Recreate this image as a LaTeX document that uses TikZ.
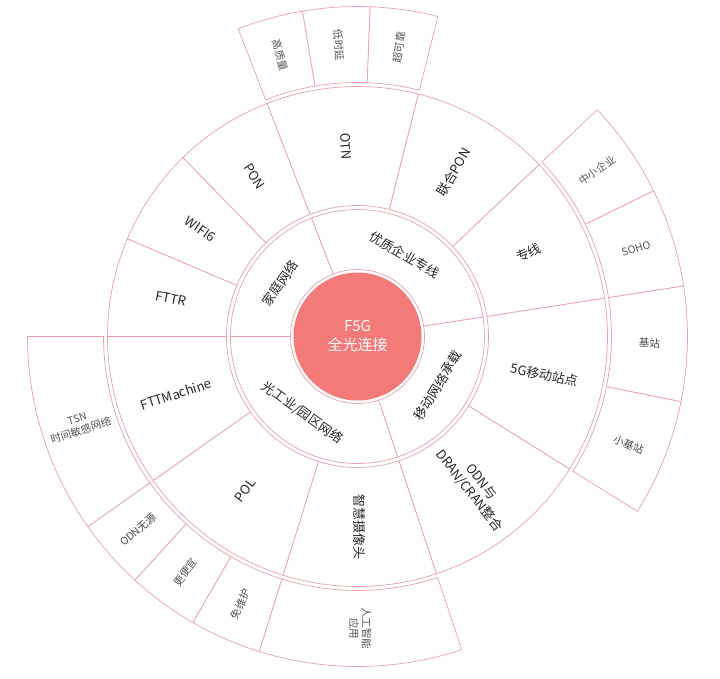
\documentclass[tikz,border=0pt]{standalone}
\usepackage{fontspec}
\setmainfont{Noto Sans CJK SC}
\definecolor{segc}{RGB}{232,160,170}
\definecolor{corec}{RGB}{244,122,122}
\definecolor{txta}{RGB}{40,40,40}
\definecolor{txtb}{RGB}{85,85,85}
\newcommand{\sect}[4]{\draw[segline] (#3:#1pt) arc[start angle=#3, end angle=#4, radius=#1pt] -- (#4:#2pt) arc[start angle=#4, end angle=#3, radius=#2pt] -- cycle;}
\tikzset{
  segline/.style={draw=segc, line width=0.7pt, fill=white},
  lab/.style={text=txta, font=\fontsize{13}{15}\selectfont, align=center, inner sep=0pt},
  labs/.style={text=txtb, font=\fontsize{10.5}{12.5}\selectfont, align=center, inner sep=0pt},
  labd/.style={text=txta!85, font=\fontsize{10.5}{12.5}\selectfont, align=center, inner sep=0pt},
  core/.style={text=white, font=\fontsize{15}{19}\selectfont, align=center, inner sep=0pt}
}
\begin{document}
\begin{tikzpicture}
\useasboundingbox (0pt,0pt) rectangle (720pt,-678pt);
\fill[white] (0pt,0pt) rectangle (720pt,-678pt);
\begin{scope}[shift={(357.5pt,-336.5pt)}]
% level 1
\sect{67}{127}{111.2}{180}
\sect{67}{127}{8.8}{111.2}
\sect{67}{127}{-71.6}{8.8}
\sect{67}{127}{180}{288.4}
% level 2
\sect{131}{250}{157}{180}
\sect{131}{250}{134.3}{157}
\sect{131}{250}{111.2}{134.3}
\sect{131}{250}{75.9}{111.2}
\sect{131}{250}{43.4}{75.9}
\sect{131}{250}{8.8}{43.4}
\sect{131}{250}{-32}{8.8}
\sect{131}{250}{-71.6}{-32}
\sect{131}{250}{180}{215.2}
\sect{131}{250}{215.2}{252.7}
\sect{131}{250}{252.7}{288.4}
% level 3
\sect{254}{330}{99.6}{111.2}
\sect{254}{330}{87.8}{99.6}
\sect{254}{330}{75.9}{87.8}
\sect{254}{330}{26.2}{43.4}
\sect{254}{330}{8.8}{26.2}
\sect{254}{330}{-11.4}{8.8}
\sect{254}{330}{-32}{-11.4}
\sect{254}{330}{180}{215.2}
\sect{254}{330}{215.2}{227.6}
\sect{254}{330}{227.6}{240.1}
\sect{254}{330}{240.1}{252.7}
\sect{254}{330}{252.7}{288.4}
% core
\fill[corec] (0,0) circle[radius=64pt];
\node[core] (core) at (0,0) {F5G\\全光连接};
% level 1 labels
\node[lab, rotate=55.6] (l1a) at (145.6:94pt) {家庭网络};
\node[lab, rotate=-30] (l1b) at (59.95:94pt) {优质企业专线};
\node[lab, rotate=58.6] (l1c) at (-31.4:94pt) {移动网络承载};
\node[lab, rotate=-35.8] (l1d) at (234.2:94pt) {光工业/园区网络};
% level 2 labels
\node[lab, rotate=-11.5] (l2a) at (168.5:190.5pt) {FTTR};
\node[lab, rotate=-34.35] (l2b) at (145.65:190.5pt) {WIFI6};
\node[lab, rotate=-57.25] (l2c) at (122.75:190.5pt) {PON};
\node[lab, rotate=-86.45] (l2d) at (93.55:190.5pt) {OTN};
\node[lab, rotate=59.65] (l2e) at (59.65:190.5pt) {联合PON};
\node[lab, rotate=26.1] (l2f) at (26.1:190.5pt) {专线};
\node[lab, rotate=-11.6] (l2g) at (-11.6:190.5pt) {5G移动站点};
\node[lab, rotate=-51.8] (l2h) at (-51.8:190.5pt) {ODN与\\DRAN/CRAN整合};
\node[lab, rotate=17.6] (l2i) at (197.6:190.5pt) {FTTMachine};
\node[lab, rotate=53.95] (l2j) at (233.95:190.5pt) {POL};
\node[lab, rotate=-89.45] (l2k) at (270.55:190.5pt) {智慧摄像头};
% level 3 labels
\node[labs, rotate=-74.6] (l3a) at (105.4:292pt) {高质量};
\node[labs, rotate=-86.3] (l3b) at (93.7:292pt) {低时延};
\node[labs, rotate=81.85] (l3c) at (81.85:292pt) {超可靠};
\node[labs, rotate=34.8] (l3d) at (34.8:292pt) {中小企业};
\node[labs, rotate=17.5] (l3e) at (17.5:292pt) {SOHO};
\node[labd, rotate=-1.3] (l3f) at (-1.3:292pt) {基站};
\node[labd, rotate=-21.7] (l3g) at (-21.7:292pt) {小基站};
\node[labs, rotate=17.6] (l3h) at (197.6:292pt) {TSN\\时间敏感网络};
\node[labd, rotate=41.4] (l3i) at (221.4:292pt) {ODN无源};
\node[labs, rotate=53.85] (l3j) at (233.85:292pt) {更便宜};
\node[labs, rotate=66.4] (l3k) at (246.4:292pt) {免维护};
\node[labs, rotate=-89.45] (l3l) at (270.55:292pt) {人工智能\\应用};
\end{scope}
\end{tikzpicture}
\end{document}
